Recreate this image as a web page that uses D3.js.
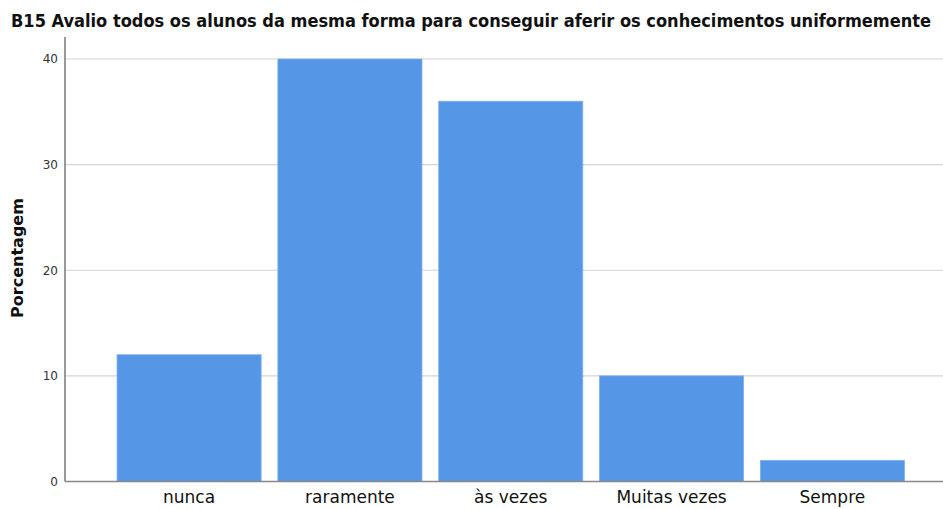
<!DOCTYPE html>
<html><head><meta charset="utf-8">
<script src="https://cdn.jsdelivr.net/npm/d3@7"></script>
<style>body{margin:0;background:#fff;} svg{display:block;}</style>
</head><body>
<script>
const categories = ["nunca", "raramente", "às vezes", "Muitas vezes", "Sempre"];
const values = [12, 40, 36, 10, 2];
const yTicks = [0, 10, 20, 30, 40];
const titleText = "B15 Avalio todos os alunos da mesma forma para conseguir aferir os conhecimentos uniformemente";
const yLabel = "Porcentagem";

const W = 943, H = 509;
const svg = d3.select("body").append("svg").attr("width", W).attr("height", H);

const x0 = 65, yTop = 37, yBase = 481.5;
const y = d3.scaleLinear().domain([0, 40]).range([yBase, 59]);
const x = d3.scaleBand().domain(categories).range([109, 912.5]).paddingInner(0.104).paddingOuter(0.05);

// gridlines
svg.append("g").selectAll("line").data(yTicks.filter(d => d > 0)).join("line")
  .attr("x1", x0).attr("x2", W).attr("y1", d => y(d)).attr("y2", d => y(d))
  .attr("stroke", "#d4d4d4").attr("stroke-width", 1.2);

// bars
svg.append("g").selectAll("rect").data(values).join("rect")
  .attr("x", (d, i) => x(categories[i]))
  .attr("width", x.bandwidth())
  .attr("y", d => y(d))
  .attr("height", d => yBase - y(d))
  .attr("fill", "#5596e6")
  .attr("stroke", "#7fb0ee").attr("stroke-width", 0.8);

// y axis
const yAxis = d3.axisLeft(y).tickValues(yTicks).tickSize(0).tickPadding(7);
const gy = svg.append("g").attr("transform", `translate(${x0},0)`).call(yAxis);
gy.select(".domain").remove();
gy.selectAll("text").attr("font-family", "DejaVu Sans, sans-serif").attr("font-size", 12).attr("fill", "#333");
svg.append("line").attr("x1", x0).attr("x2", x0).attr("y1", yTop).attr("y2", yBase)
  .attr("stroke", "#555").attr("stroke-width", 1.2);

// x axis
const xAxis = d3.axisBottom(x).tickSize(0).tickPadding(9);
const gx = svg.append("g").attr("transform", `translate(0,${yBase})`).call(xAxis);
gx.select(".domain").remove();
gx.selectAll("text").attr("font-family", "DejaVu Sans, sans-serif").attr("font-size", 17).attr("fill", "#111");
svg.append("line").attr("x1", x0).attr("x2", W).attr("y1", yBase).attr("y2", yBase)
  .attr("stroke", "#888").attr("stroke-width", 1.5);

// title
svg.append("text").attr("x", 11).attr("y", 27).attr("text-anchor", "start")
  .attr("font-family", "DejaVu Sans Condensed, DejaVu Sans, sans-serif")
  .attr("font-weight", "bold").attr("font-size", 18).attr("fill", "#111")
  .attr("textLength", 920).attr("lengthAdjust", "spacingAndGlyphs")
  .text(titleText);

// y label
svg.append("text").attr("transform", "translate(23,258) rotate(-90)").attr("text-anchor", "middle")
  .attr("font-family", "DejaVu Sans, sans-serif").attr("font-weight", "bold").attr("font-size", 16).attr("fill", "#111")
  .text(yLabel);
</script>
</body></html>
